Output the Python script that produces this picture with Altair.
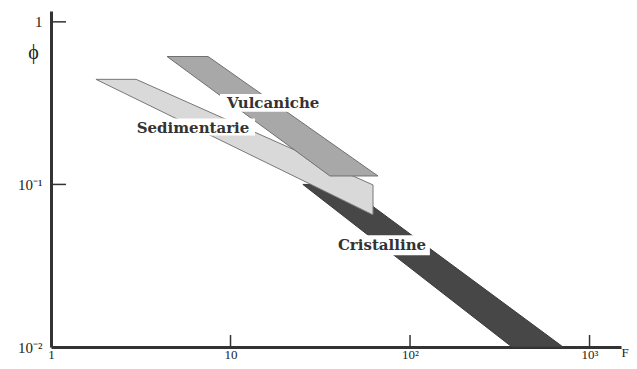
import altair as alt
import pandas as pd

# ---- data (log-log: F vs phi) ----
vulc_phi = [0.612, 0.1127]
vulc_f_lo = [4.43, 35.8]
vulc_f_hi = [7.50, 66.3]

sed_phi = [0.443, 0.0993, 0.0653]
sed_f_lo = [1.78, 28.4, 61.5]
sed_f_hi = [2.98, 62.2, 62.2]

cri_phi = [0.1, 0.01]
cri_f_lo = [25.3, 370.0]
cri_f_hi = [42.4, 712.0]

label_names = ["Vulcaniche", "Sedimentarie", "Cristalline"]
label_f = [17.3, 6.18, 69.8]
label_phi = [0.318, 0.2236, 0.0423]
box_f_lo = [8.74, 2.75, 35.8]
box_f_hi = [34.5, 13.7, 129.0]
box_phi_lo = [0.280, 0.200, 0.0367]
box_phi_hi = [0.360, 0.254, 0.0486]

x_tick_values = [1, 10, 100, 1000]
x_tick_labels = ["1", "10", "10²", "10³"]
y_tick_values = [0.01, 0.1, 1]
y_tick_labels = ["10⁻²", "10⁻¹", "1"]
x_inner_ticks = [10, 100, 1000]
y_inner_ticks = [0.1, 1]

X_DOMAIN = [1, 1497]
Y_DOMAIN = [0.01, 1.166]
W, H = 570, 336


def label_expr(values, labels):
    expr = "''"
    for v, l in zip(values, labels):
        expr = f"abs(datum.value - {v}) < {v} * 1e-6 ? '{l}' : " + expr
    return expr


FONT = "Liberation Serif"

xscale = alt.Scale(type="log", domain=X_DOMAIN, nice=False)
yscale = alt.Scale(type="log", domain=Y_DOMAIN, nice=False)

xaxis = alt.Axis(
    values=x_tick_values, labelExpr=label_expr(x_tick_values, x_tick_labels),
    ticks=False, grid=False, domainColor="#333", domainWidth=3,
    labelFont=FONT, labelFontSize=13, labelColor="#222", labelPadding=1,
    labelFlush=False, labelOverlap=False,
    title="F", titleFont=FONT, titleFontSize=13, titleFontWeight="normal",
    titleColor="#222", titleX=570, titleY=-1, titleAlign="left", titleBaseline="top",
)
yaxis = alt.Axis(
    values=y_tick_values, labelExpr=label_expr(y_tick_values, y_tick_labels),
    ticks=False, grid=False, domainColor="#333", domainWidth=3,
    labelFont=FONT, labelFontSize=15, labelColor="#222", labelPadding=9,
    labelFlush=False, labelOverlap=False,
    title="ϕ", titleFont=FONT, titleFontSize=20, titleFontWeight="normal",
    titleColor="#222", titleAngle=0, titleX=-18, titleY=41,
    titleAlign="center", titleBaseline="middle",
)

def poly_df(phi, lo, hi):
    return pd.DataFrame({"phi": phi, "lo": lo, "hi": hi})

def poly(df, fill, stroke):
    return alt.Chart(df).mark_area(
        orient="horizontal", fill=fill, stroke=stroke, strokeWidth=1, opacity=1
    ).encode(
        y=alt.Y("phi:Q", scale=yscale, axis=yaxis),
        x=alt.X("lo:Q", scale=xscale, axis=xaxis),
        x2="hi:Q",
    )

cri = poly(poly_df(cri_phi, cri_f_lo, cri_f_hi), "#474747", "#3a3a3a")
sed = poly(poly_df(sed_phi, sed_f_lo, sed_f_hi), "#d9d9d9", "#777777")
vul = poly(poly_df(vulc_phi, vulc_f_lo, vulc_f_hi), "#a8a8a8", "#707070")

boxes_df = pd.DataFrame({"x": box_f_lo, "x2": box_f_hi, "y": box_phi_lo, "y2": box_phi_hi})
boxes = alt.Chart(boxes_df).mark_rect(fill="white", strokeWidth=0).encode(
    x=alt.X("x:Q", scale=xscale), x2="x2:Q",
    y=alt.Y("y:Q", scale=yscale), y2="y2:Q",
)

labels_df = pd.DataFrame({"name": label_names, "f": label_f, "phi": label_phi})
labels = alt.Chart(labels_df).mark_text(
    font="DejaVu Serif", fontSize=15, fontWeight="bold", color="#333",
    align="center", baseline="middle",
).encode(
    x=alt.X("f:Q", scale=xscale), y=alt.Y("phi:Q", scale=yscale), text="name:N",
)

xt_df = pd.DataFrame({"v": x_inner_ticks})
xticks = alt.Chart(xt_df).mark_rule(color="#333", strokeWidth=1.5).encode(
    x=alt.X("v:Q", scale=xscale), y=alt.value(H), y2=alt.value(H - 12),
)
yt_df = pd.DataFrame({"v": y_inner_ticks})
yticks = alt.Chart(yt_df).mark_rule(color="#333", strokeWidth=1.5).encode(
    y=alt.Y("v:Q", scale=yscale), x=alt.value(0), x2=alt.value(15),
)

chart = alt.layer(cri, sed, vul, boxes, labels, xticks, yticks).properties(
    width=W, height=H,
    autosize=alt.AutoSizeParams(type="none"),
    padding={"left": 43, "top": 3, "right": 8, "bottom": 14},
).configure(background="white").configure_view(strokeWidth=0)

chart.save("out.html", embed_options={"renderer": "svg", "actions": False})
